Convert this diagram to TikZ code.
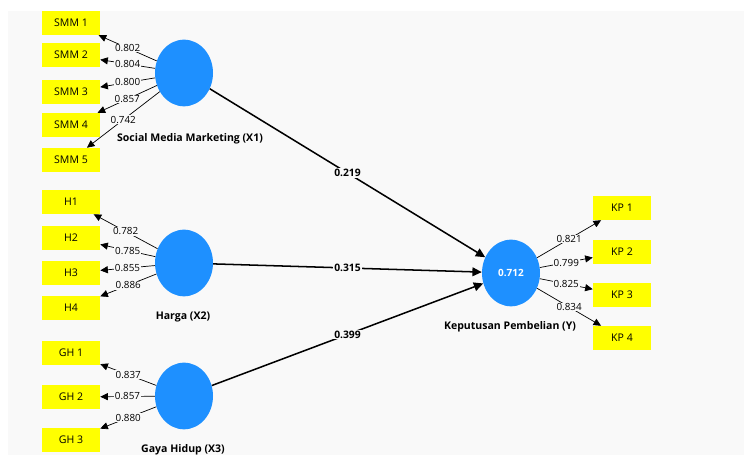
\documentclass[tikz,border=0pt]{standalone}
\usepackage{fontspec}
\setmainfont{Open Sans}
\usepackage{tikz}
\usetikzlibrary{shapes.geometric,arrows.meta}

\tikzset{
  indbox/.style={fill=indyellow, minimum width=1.74cm, minimum height=0.72cm, inner sep=0pt, font=\fontsize{9}{10}\selectfont},
  latent/.style={ellipse, fill=latblue, minimum width=1.74cm, minimum height=2.0cm, inner sep=0pt},
  latname/.style={font=\bfseries\fontsize{9}{10}\selectfont},
  loading/.style={line width=0.6pt, -{Triangle[length=6.5pt,width=6pt]}},
  loadval/.style={midway, fill=bggrey, inner sep=0.6pt, font=\fontsize{8.4}{9}\selectfont},
  inner/.style={line width=1.3pt, -{Triangle[length=8pt,width=7.5pt]}},
  innerval/.style={midway, fill=bggrey, inner sep=0.8pt, font=\bfseries\fontsize{8.8}{10}\selectfont}
}

\begin{document}
\begin{tikzpicture}[x=0.03cm, y=-0.03cm]
    \definecolor{bggrey}{rgb}{0.976,0.976,0.976}
    \definecolor{indyellow}{rgb}{1,1,0}
    \definecolor{latblue}{rgb}{0.118,0.565,1}
    \useasboundingbox (0,0) rectangle (744,461);
    \fill[bggrey] (8,11) rectangle (744,455);
    %indicators
    \node[indbox] (smm1) at (71,23) {SMM 1};
    \node[indbox] (smm2) at (71,55) {SMM 2};
    \node[indbox] (smm3) at (71,92) {SMM 3};
    \node[indbox] (smm4) at (71,125) {SMM 4};
    \node[indbox] (smm5) at (71,160) {SMM 5};
    \node[indbox] (h1) at (71,202) {H1};
    \node[indbox] (h2) at (71,238) {H2};
    \node[indbox] (h3) at (71,273) {H3};
    \node[indbox] (h4) at (71,308) {H4};
    \node[indbox] (gh1) at (71,353) {GH 1};
    \node[indbox] (gh2) at (71,397) {GH 2};
    \node[indbox] (gh3) at (71,440) {GH 3};
    \node[indbox] (kp1) at (622,208) {KP 1};
    \node[indbox] (kp2) at (622,252) {KP 2};
    \node[indbox] (kp3) at (622,295) {KP 3};
    \node[indbox] (kp4) at (622,338) {KP 4};
    %constructs
    \node[latent] (smm) at (184,73) {};
    \node[latent] (harga) at (184,263) {};
    \node[latent] (gaya) at (184,396) {};
    \node[latent, text=white, font=\bfseries\fontsize{8.5}{10}\selectfont] (kp) at (511,273) {0.712};
    \node[latname] (smmname) at (190,139) {Social Media Marketing (X1)};
    \node[latname] (harganame) at (183,317) {Harga (X2)};
    \node[latname] (gayaname) at (183,450) {Gaya Hidup (X3)};
    \node[latname] (kpname) at (510,327) {Keputusan Pembelian (Y)};
    %outer loadings
    \draw[loading] (smm) -- node[loadval] {0.802} (smm1);
    \draw[loading] (smm) -- node[loadval] {0.804} (smm2);
    \draw[loading] (smm) -- node[loadval] {0.800} (smm3);
    \draw[loading] (smm) -- node[loadval] {0.857} (smm4);
    \draw[loading] (smm) -- node[loadval] {0.742} (smm5);
    \draw[loading] (harga) -- node[loadval] {0.782} (h1);
    \draw[loading] (harga) -- node[loadval] {0.785} (h2);
    \draw[loading] (harga) -- node[loadval] {0.855} (h3);
    \draw[loading] (harga) -- node[loadval] {0.886} (h4);
    \draw[loading] (gaya) -- node[loadval] {0.837} (gh1);
    \draw[loading] (gaya) -- node[loadval] {0.857} (gh2);
    \draw[loading] (gaya) -- node[loadval] {0.880} (gh3);
    \draw[loading] (kp) -- node[loadval] {0.821} (kp1);
    \draw[loading] (kp) -- node[loadval] {0.799} (kp2);
    \draw[loading] (kp) -- node[loadval] {0.825} (kp3);
    \draw[loading] (kp) -- node[loadval] {0.834} (kp4);
    %path coefficients
    \draw[inner] (smm) -- node[innerval] {0.219} (kp);
    \draw[inner] (harga) -- node[innerval] {0.315} (kp);
    \draw[inner] (gaya) -- node[innerval] {0.399} (kp);
\end{tikzpicture}
\end{document}
